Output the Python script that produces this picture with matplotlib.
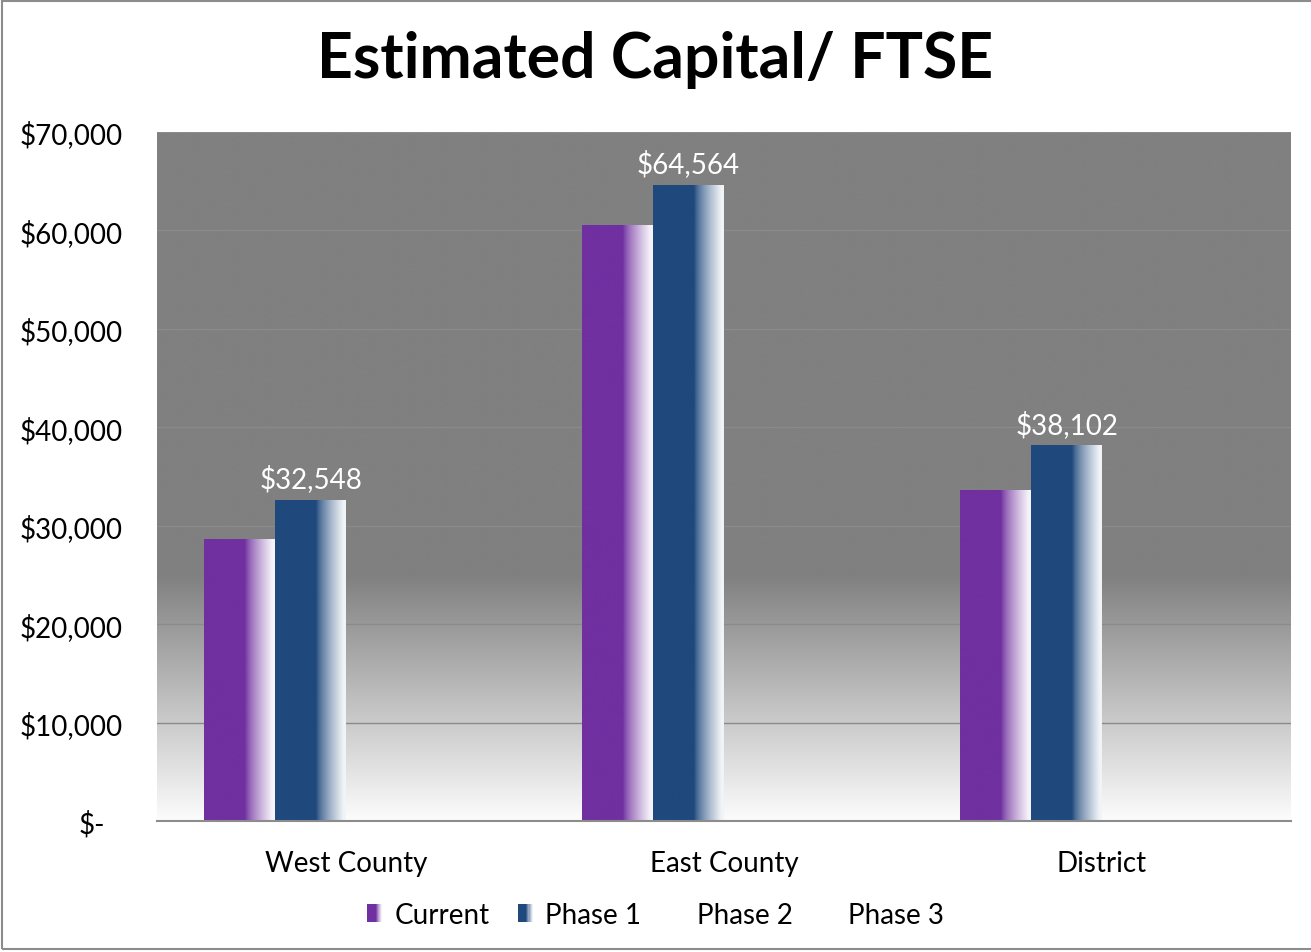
import numpy as np
import matplotlib
matplotlib.use("Agg")
import matplotlib.pyplot as plt
from matplotlib.patches import Rectangle, Patch
from matplotlib.legend_handler import HandlerBase
from matplotlib.colors import to_rgb
from matplotlib.transforms import ScaledTranslation

plt.rcParams["font.family"] = ["Lato", "DejaVu Sans"]

categories = ["West County", "East County", "District"]
series_names = ["Current", "Phase 1", "Phase 2", "Phase 3"]
current = [28550, 60450, 33530]
phase1 = [32548, 64564, 38102]
phase2 = [0, 0, 0]
phase3 = [0, 0, 0]
yticks = [0, 10000, 20000, 30000, 40000, 50000, 60000, 70000]

colors = ["#7030A0", "#1F497D", "#4F81BD", "#9BBB59"]


def shade(color, u):
    # solid on the left, fading to white on the right edge
    rgb = np.array(to_rgb(color))
    t = np.clip((u - 0.58) / 0.42, 0, 1)
    mix = np.minimum(t ** 0.75, 0.94)
    return rgb * (1 - mix) + np.ones(3) * mix


def gradient_image(color, n=256):
    u = np.linspace(0, 1, n)
    return np.array([[shade(color, v) for v in u]])


class GradHandler(HandlerBase):
    def __init__(self, color):
        super().__init__()
        self.color = color

    def create_artists(self, legend, orig_handle, xdescent, ydescent,
                       width, height, fontsize, trans):
        n = 14
        arts = []
        for k in range(n):
            c = shade(self.color, (k + 0.5) / n)
            arts.append(Rectangle((-xdescent + width * k / n, -ydescent),
                                  width / n, height, facecolor=c,
                                  edgecolor="none", transform=trans))
        return arts


fig = plt.figure(figsize=(13.11, 9.53), dpi=100)
ax = fig.add_axes([157 / 1311, 1 - 822 / 953, (1291 - 157) / 1311, (822 - 133) / 953])

# plot area background: flat gray on top, fading to white at the bottom
bg_n = 400
fy = np.linspace(1, 0, bg_n)
split = 25000 / 70000
level = np.where(fy >= split, 128, 128 + (split - fy) / split * 124) / 255
bg = np.repeat(level[:, None, None], 3, axis=2)
ax.imshow(bg, extent=[0, 1, 0, 1], transform=ax.transAxes, aspect="auto",
          zorder=0, interpolation="bilinear")

x = np.arange(len(categories))
w = 0.1875
all_series = [current, phase1, phase2, phase3]
bar_sets = []
for i, vals in enumerate(all_series):
    bars = ax.bar(x + (i - 1.5) * w, vals, w, color=colors[i], zorder=2,
                  linewidth=0)
    bar_sets.append(bars)
    if i < 2:
        img = gradient_image(colors[i])
        for b in bars:
            ax.imshow(img, extent=[b.get_x(), b.get_x() + b.get_width(),
                                   0, b.get_height()],
                      aspect="auto", zorder=3, interpolation="bilinear")

for b, v in zip(bar_sets[1], phase1):
    ax.annotate(f"${v:,.0f}", (b.get_x() + b.get_width() / 2, v),
                xytext=(0, 6), textcoords="offset points", ha="center",
                va="bottom", color="white", fontsize=20, zorder=4)

ax.set_xlim(-0.5, 2.5)
ax.set_ylim(0, 70000)
ax.set_xticks(x)
ax.set_xticklabels(categories, fontsize=20)
ax.set_yticks(yticks)
ax.set_yticklabels(["$-" if v == 0 else f"${v:,.0f}" for v in yticks], fontsize=20)
ax.tick_params(axis="both", length=0)
ax.tick_params(axis="y", pad=25)
ax.tick_params(axis="x", pad=21)
zero_lbl = ax.get_yticklabels()[0]
zero_lbl.set_transform(zero_lbl.get_transform() +
                       ScaledTranslation(-0.17, 0, fig.dpi_scale_trans))

ax.yaxis.grid(True, color="#8a8a8a", linewidth=1.0, zorder=1)
ax.set_axisbelow(True)
for s in ["top", "right", "left"]:
    ax.spines[s].set_visible(False)
ax.spines["bottom"].set_color("#8c8c8c")
ax.spines["bottom"].set_linewidth(1.5)
ax.spines["bottom"].set_zorder(5)

fig.text(0.5, 1 - 60 / 953, "Estimated Capital/ FTSE", ha="center",
         va="center", fontsize=45, fontweight="bold")

handles = [Patch(label=n) for n in series_names]
hmap = {handles[0]: GradHandler(colors[0]), handles[1]: GradHandler(colors[1])}
handles[2].set_facecolor("none")
handles[2].set_edgecolor("none")
handles[3].set_facecolor("none")
handles[3].set_edgecolor("none")
fig.legend(handles=handles, handler_map=hmap, loc="center",
           bbox_to_anchor=(0.5, 1 - 916 / 953), ncol=4, frameon=False,
           fontsize=20, handlelength=0.55, handleheight=0.62,
           handletextpad=0.45, columnspacing=1.0)

# outer chart border
fig.patches.append(Rectangle((2 / 1311, 3 / 953), 1.2, 1 - 5 / 953,
                             transform=fig.transFigure, fill=False,
                             edgecolor="#8c8c8c", linewidth=1.5))

fig.savefig("out.png", dpi=100)
